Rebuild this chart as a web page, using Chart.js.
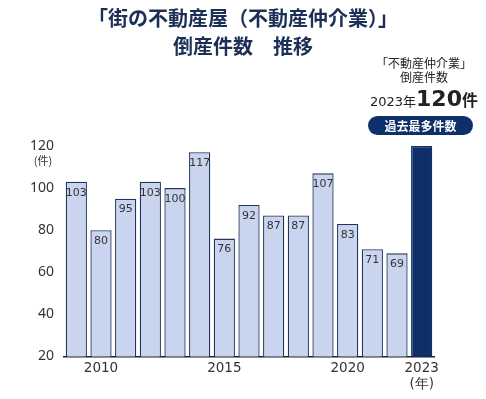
<!DOCTYPE html>
<html lang="ja">
<head>
<meta charset="utf-8">
<script src="https://cdn.jsdelivr.net/npm/chart.js@4"></script>
<style>
  html, body { margin: 0; padding: 0; background: #fff; }
  body { width: 486px; height: 399px; position: relative; overflow: hidden;
         font-family: "Noto Sans CJK JP", "Noto Sans", sans-serif; }
  #chartWrap { position: absolute; left: 0; top: 0; width: 486px; height: 399px; }
  .title { position: absolute; left: 0; width: 486px; text-align: center;
           font-weight: bold; font-size: 20px; color: #1b2f57; line-height: 1; }
  .note { position: absolute; left: 368px; width: 112px; text-align: center;
          color: #222; font-size: 12px; line-height: 1; }
  .pill { position: absolute; left: 368px; top: 116px; width: 105px; height: 19px;
          border-radius: 10px; background: #0f2f6b; color: #fff; font-size: 12px;
          font-weight: bold; text-align: center; line-height: 19px; }
</style>
</head>
<body>
<div id="chartWrap"><canvas id="bankruptChart" width="486" height="399"></canvas></div>
<div class="title" style="top:8px">「街の不動産屋（不動産仲介業）」</div>
<div class="title" style="top:36px">倒産件数　推移</div>
<div class="note" style="top:57px">「不動産仲介業」</div>
<div class="note" style="top:71px">倒産件数</div>
<div class="note" style="top:88px; font-weight:bold; white-space:nowrap;">
  <span style="font-size:13px; font-weight:normal; font-family:'DejaVu Sans','Noto Sans CJK JP',sans-serif">2023年</span><span style="font-size:22px; font-family:'DejaVu Sans',sans-serif">120</span><span style="font-size:16px">件</span>
</div>
<div class="pill">過去最多件数</div>

<script>
// yearly bankruptcy counts
const years = ['2009', '2010', '2011', '2012', '2013', '2014', '2015', '2016',
               '2017', '2018', '2019', '2020', '2021', '2022', '2023'];
const counts = [103, 80, 95, 103, 100, 117, 76, 92, 87, 87, 107, 83, 71, 69, 120];
const shownYears = ['2010', '2015', '2020', '2023'];
const yTicks = [20, 40, 60, 80, 100, 120];

const lightFill = '#c9d5ee';
const darkFill = '#0f2f6b';
const barEdge = '#22355e';

// value labels just inside the top of each bar (not on the 2023 bar)
const valueLabels = {
  id: 'valueLabels',
  afterDatasetsDraw(chart) {
    const ctx = chart.ctx;
    const meta = chart.getDatasetMeta(0);
    ctx.save();
    ctx.font = "11px 'DejaVu Sans', sans-serif";
    ctx.fillStyle = '#333';
    ctx.textAlign = 'center';
    ctx.textBaseline = 'middle';
    meta.data.forEach(function (bar, i) {
      if (i === counts.length - 1) return;
      ctx.fillText(String(counts[i]), bar.x, bar.y + 11);
    });
    // unit under the top tick
    ctx.font = "11px 'Noto Sans CJK JP', sans-serif";
    ctx.fillText('(件)', 43, 161);
    ctx.restore();
  }
};

new Chart(document.getElementById('bankruptChart'), {
  type: 'bar',
  data: {
    labels: years,
    datasets: [{
      data: counts,
      backgroundColor: counts.map((v, i) => i === counts.length - 1 ? darkFill : lightFill),
      borderColor: counts.map((v, i) => i === counts.length - 1 ? darkFill : barEdge),
      borderWidth: 1.3,
      borderSkipped: false,
      barPercentage: 0.86,
      categoryPercentage: 1.0
    }]
  },
  options: {
    responsive: false,
    animation: false,
    layout: { padding: { top: 146, right: 52, left: 0, bottom: 0 } },
    plugins: { legend: { display: false }, tooltip: { enabled: false } },
    scales: {
      x: {
        grid: { display: false, drawTicks: false },
        border: { display: true, color: '#222', width: 1.5 },
        ticks: {
          autoSkip: false,
          maxRotation: 0,
          padding: 4,
          color: '#333',
          font: { family: "'DejaVu Sans', sans-serif", size: 13.5 },
          callback: function (value, index) {
            const y = years[index];
            if (y === '2023') return ['2023', '(年)'];
            return shownYears.includes(y) ? y : '';
          }
        },
        afterFit: function (scale) { scale.height = 42.5; }
      },
      y: {
        min: 20,
        max: 120,
        grid: { display: false, drawTicks: false },
        border: { display: false },
        afterBuildTicks: function (scale) { scale.ticks = yTicks.map(v => ({ value: v })); },
        ticks: {
          padding: 10,
          color: '#333',
          font: { family: "'Noto Sans', sans-serif", size: 14 }
        },
        afterFit: function (scale) { scale.width = 64; }
      }
    }
  },
  plugins: [valueLabels]
});
</script>
</body>
</html>
